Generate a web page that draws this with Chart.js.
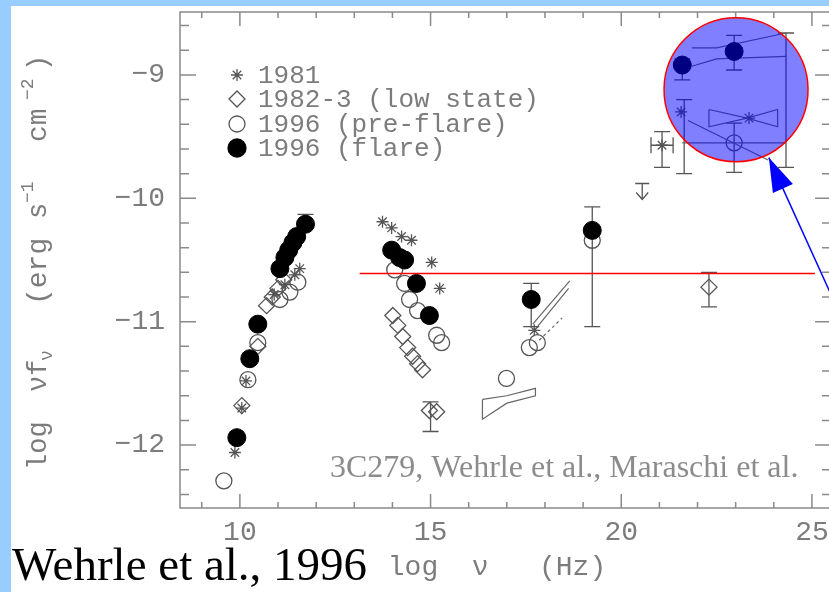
<!DOCTYPE html>
<html>
<head>
<meta charset="utf-8">
<script src="https://cdn.jsdelivr.net/npm/chart.js@4.4.0/dist/chart.umd.min.js"></script>
<style>
  html, body { margin: 0; padding: 0; background: #99ccff; overflow: hidden; width: 829px; height: 592px; }
  #wrap { position: absolute; left: 11px; top: 6px; width: 840px; height: 586px; background: #fff; }
  #sed { display: block; }
</style>
</head>
<body>
<div id="wrap"><canvas id="sed" width="840" height="586"></canvas></div>
<script>

// 1996 flare (filled circles)
const flareX = [9.92, 10.26, 10.47, 11.05, 11.18, 11.28, 11.39, 11.49, 11.72, 13.98, 14.19, 14.32, 14.63, 14.97, 17.64, 19.24, 21.60, 22.96];
const flareY = [-11.94, -11.30, -11.02, -10.57, -10.48, -10.42, -10.36, -10.31, -10.21, -10.42, -10.48, -10.50, -10.69, -10.95, -10.82, -10.26, -8.92, -8.81];

// 1996 pre-flare (open circles)
const preX = [9.58, 10.21, 10.47, 11.05, 11.31, 11.52, 14.06, 14.32, 14.45, 14.66, 15.16, 15.29, 16.99, 17.59, 17.80, 19.24, 22.96];
const preY = [-12.29, -11.47, -11.17, -10.82, -10.76, -10.68, -10.58, -10.69, -10.82, -10.91, -11.11, -11.17, -11.46, -11.21, -11.17, -10.34, -9.55];

// 1982-3 low state (diamonds)
const lowX = [10.05, 10.47, 10.70, 10.85, 11.00, 11.15, 14.01, 14.14, 14.27, 14.40, 14.53, 14.66, 14.79, 14.97, 15.16, 22.30];
const lowY = [-11.68, -11.20, -10.87, -10.80, -10.73, -10.66, -10.95, -11.03, -11.12, -11.21, -11.28, -11.34, -11.39, -11.72, -11.73, -10.72];

// 1981 (asterisks)
const y81X = [9.87, 10.05, 10.16, 10.90, 11.18, 11.44, 11.57, 13.74, 13.98, 14.24, 14.50, 15.03, 15.24, 17.72, 21.07, 21.57, 23.35];
const y81Y = [-12.06, -11.70, -11.48, -10.78, -10.70, -10.62, -10.57, -10.19, -10.24, -10.31, -10.34, -10.52, -10.73, -11.07, -9.57, -9.30, -9.35];

// vertical error bars
const errX  = [11.72, 17.64, 19.24, 21.60, 22.96, 21.65, 22.96, 22.30, 21.07, 24.32, 15.00];
const errLo = [-10.21, -11.04, -11.04, -9.04, -8.96, -9.80, -9.79, -10.88, -9.75, -9.75, -11.89];
const errHi = [-10.13, -10.69, -10.07, -8.87, -8.68, -9.20, -9.39, -10.60, -9.46, -8.66, -11.65];
// horizontal error bar
const hErrY = [-9.57];
const hErrLo = [20.78];
const hErrHi = [21.36];
// upper limit (arrow down)
const ulX = [20.55];
const ulTop = [-9.88];
const ulTip = [-10.01];

// spectral "bow-ties"
const bowXrayAX = [17.68, 18.65];
const bowXrayAY = [-11.02, -10.67];
const bowXrayBX = [17.75, 18.62];
const bowXrayBY = [-11.06, -10.73];
const bowXrayCX = [17.85, 18.45];
const bowXrayCY = [-11.15, -10.97];
const bowLowX = [16.36, 17.00, 17.75, 17.75, 17.00, 16.36, 16.36];
const bowLowY = [-11.63, -11.60, -11.54, -11.60, -11.66, -11.79, -11.63];
const bowGamFlareUpX = [21.85, 22.50, 24.32];
const bowGamFlareUpY = [-8.78, -8.78, -8.66];
const bowGamFlareLoX = [21.85, 22.50, 24.32];
const bowGamFlareLoY = [-8.93, -8.87, -8.85];
const bow81X = [22.30, 22.30, 23.30, 24.10, 24.10, 23.30, 22.30];
const bow81Y = [-9.28, -9.42, -9.35, -9.42, -9.28, -9.35, -9.28];
const gamLineAX = [21.75, 23.85];
const gamLineAY = [-9.37, -9.69];
const gamLineBX = [21.60, 24.32];
const gamLineBY = [-9.55, -9.55];

// annotations
const redLineX = [13.14, 25.08];
const redLineY = [-10.61, -10.61];
const lensX = [23.01];
const lensY = [-9.12];
const arrowX = [25.50, 23.87];
const arrowY = [-10.78, -9.67];

// axes
const xMajor = [10, 15, 20, 25];
const xMinor = [9, 10, 11, 12, 13, 14, 15, 16, 17, 18, 19, 20, 21, 22, 23, 24, 25];
const yMajor = [-12, -11, -10, -9];
const yMinor = [-12.4, -12.2, -12, -11.8, -11.6, -11.4, -11.2, -11, -10.8, -10.6, -10.4, -10.2, -10, -9.8, -9.6, -9.4, -9.2, -9, -8.8, -8.6];

const legendLabels = ['1981', '1982-3 (low state)', '1996 (pre-flare)', '1996 (flare)'];

const scanGray = '#7c7c7c';
const markGray = '#555';
const monoFont = '"Liberation Mono", monospace';

function pts(xs, ys) {
  return xs.map((x, i) => ({ x: x, y: ys[i] }));
}

function lineSet(xs, ys, dash) {
  return {
    data: pts(xs, ys), showLine: true, pointRadius: 0,
    borderColor: '#666', borderWidth: 1.2, borderDash: dash || [], order: 5
  };
}

const decor = {
  id: 'decor',
  beforeDatasetsDraw(chart) {
    const { ctx, chartArea: a, scales: { x, y } } = chart;
    ctx.save();
    ctx.strokeStyle = '#8a8a8a';
    ctx.lineWidth = 1.5;
    ctx.strokeRect(a.left, a.top, a.right - a.left, a.bottom - a.top);
    ctx.beginPath();
    xMinor.forEach(v => {
      const px = x.getPixelForValue(v);
      const len = xMajor.includes(v) ? 14 : 6;
      ctx.moveTo(px, a.bottom); ctx.lineTo(px, a.bottom - len);
      ctx.moveTo(px, a.top); ctx.lineTo(px, a.top + len);
    });
    yMinor.forEach(v => {
      const py = y.getPixelForValue(v);
      const len = yMajor.some(m => Math.abs(m - v) < 1e-6) ? 16 : 9;
      ctx.moveTo(a.left, py); ctx.lineTo(a.left + len, py);
      ctx.moveTo(a.right, py); ctx.lineTo(a.right - len, py);
    });
    ctx.stroke();

    // error bars
    ctx.strokeStyle = '#555';
    ctx.lineWidth = 1.3;
    ctx.beginPath();
    errX.forEach((v, i) => {
      const px = x.getPixelForValue(v);
      const lo = y.getPixelForValue(errLo[i]);
      const hi = y.getPixelForValue(errHi[i]);
      ctx.moveTo(px, lo); ctx.lineTo(px, hi);
      ctx.moveTo(px - 8, lo); ctx.lineTo(px + 8, lo);
      ctx.moveTo(px - 8, hi); ctx.lineTo(px + 8, hi);
    });
    hErrY.forEach((v, i) => {
      const py = y.getPixelForValue(v);
      const l = x.getPixelForValue(hErrLo[i]);
      const r = x.getPixelForValue(hErrHi[i]);
      ctx.moveTo(l, py); ctx.lineTo(r, py);
      ctx.moveTo(l, py - 8); ctx.lineTo(l, py + 8);
      ctx.moveTo(r, py - 8); ctx.lineTo(r, py + 8);
    });
    ulX.forEach((v, i) => {
      const px = x.getPixelForValue(v);
      const t = y.getPixelForValue(ulTop[i]);
      const b = y.getPixelForValue(ulTip[i]);
      ctx.moveTo(px - 7, t); ctx.lineTo(px + 7, t);
      ctx.moveTo(px, t); ctx.lineTo(px, b);
      ctx.moveTo(px - 6, b - 7); ctx.lineTo(px, b); ctx.lineTo(px + 6, b - 7);
    });
    ctx.stroke();
    ctx.restore();
  },
  afterDatasetsDraw(chart) {
    const { ctx, scales: { x, y } } = chart;
    // arrow head
    const tx = x.getPixelForValue(arrowX[1]), ty = y.getPixelForValue(arrowY[1]);
    const sx = x.getPixelForValue(arrowX[0]), sy = y.getPixelForValue(arrowY[0]);
    const ang = Math.atan2(sy - ty, sx - tx);
    const len = 34, half = 11;
    const bx = tx + Math.cos(ang) * len, by = ty + Math.sin(ang) * len;
    ctx.save();
    ctx.fillStyle = '#0000ff';
    ctx.beginPath();
    ctx.moveTo(tx, ty);
    ctx.lineTo(bx - Math.sin(ang) * half, by + Math.cos(ang) * half);
    ctx.lineTo(bx + Math.sin(ang) * half, by - Math.cos(ang) * half);
    ctx.closePath();
    ctx.fill();
    ctx.restore();
  },
  afterDraw(chart) {
    const { ctx } = chart;
    ctx.save();
    // legend
    const styles = [
      { pointStyle: 'star', radius: 6, fill: 'transparent' },
      { pointStyle: 'rectRot', radius: 8, fill: 'transparent' },
      { pointStyle: 'circle', radius: 8, fill: 'transparent' },
      { pointStyle: 'circle', radius: 9, fill: '#000' }
    ];
    const rows = [69, 93, 118, 142];
    legendLabels.forEach((t, i) => {
      const s = styles[i];
      ctx.fillStyle = s.fill;
      ctx.strokeStyle = i === 3 ? '#000' : markGray;
      ctx.lineWidth = 1.3;
      Chart.helpers.drawPoint(ctx, { pointStyle: s.pointStyle, radius: s.radius, borderWidth: 1.3, rotation: 0 }, 226, rows[i]);
      ctx.fillStyle = scanGray;
      ctx.font = '26px ' + monoFont;
      ctx.textBaseline = 'middle';
      ctx.textAlign = 'left';
      ctx.fillText(t, 247, rows[i] + 1);
    });

    // x title
    ctx.fillStyle = scanGray;
    ctx.font = '28px ' + monoFont;
    ctx.textAlign = 'center';
    ctx.textBaseline = 'middle';
    ctx.fillText('log  \u03bd   (Hz)', 486, 562);

    // y title, rotated, with sub/superscripts; [text, size, shift, start along the axis]
    ctx.save();
    ctx.translate(28, 0);
    ctx.rotate(-Math.PI / 2);
    const parts = [
      ['log', 27, 0, 464], ['\u03bdf', 27, 0, 386], ['\u03bd', 18, 8, 355], ['(erg', 28, 0, 299],
      ['s', 27, 0, 213], ['\u22121', 18, -11, 197], ['cm', 28, 0, 136], ['\u22122', 18, -11, 94], [')', 27, 0, 65]
    ];
    ctx.textAlign = 'left';
    ctx.textBaseline = 'middle';
    parts.forEach(p => {
      ctx.font = p[1] + 'px ' + monoFont;
      ctx.fillText(p[0], -p[3], p[2]);
    });
    ctx.restore();

    // captions
    ctx.textBaseline = 'alphabetic';
    ctx.textAlign = 'left';
    ctx.fillStyle = '#8c8c8c';
    ctx.font = '32px "Liberation Serif", serif';
    ctx.fillText('3C279, Wehrle et al., Maraschi et al.', 319, 471);
    ctx.fillStyle = '#000';
    ctx.font = '47px "Liberation Serif", serif';
    ctx.fillText('Wehrle et al., 1996', 1, 574);
    ctx.restore();
  }
};

new Chart(document.getElementById('sed'), {
  type: 'scatter',
  data: {
    datasets: [
      { label: 'lens', data: pts(lensX, lensY), pointRadius: 72, pointHoverRadius: 72,
        backgroundColor: 'rgba(0,0,255,0.5)', borderColor: '#ff0000', borderWidth: 1.5, order: -1 },
      { label: 'arrow', data: pts(arrowX, arrowY), showLine: true, pointRadius: 0,
        borderColor: '#0000ff', borderWidth: 1.5, order: -1 },
      { label: 'red', data: pts(redLineX, redLineY), showLine: true, pointRadius: 0,
        borderColor: '#ff0000', borderWidth: 1.5, order: -2 },
      { label: '1996 (flare)', data: pts(flareX, flareY), pointStyle: 'circle', pointRadius: 9,
        backgroundColor: '#000', borderColor: '#000', borderWidth: 1, order: 1 },
      { label: '1996 (pre-flare)', data: pts(preX, preY), pointStyle: 'circle', pointRadius: 8,
        backgroundColor: 'transparent', borderColor: markGray, borderWidth: 1.3, order: 2 },
      { label: '1982-3 (low state)', data: pts(lowX, lowY), pointStyle: 'rectRot', pointRadius: 8,
        backgroundColor: 'transparent', borderColor: markGray, borderWidth: 1.3, order: 3 },
      { label: '1981', data: pts(y81X, y81Y), pointStyle: 'star', pointRadius: 6,
        backgroundColor: 'transparent', borderColor: markGray, borderWidth: 1.3, order: 4 },
      lineSet(bowXrayAX, bowXrayAY),
      lineSet(bowXrayBX, bowXrayBY),
      lineSet(bowXrayCX, bowXrayCY, [3, 3]),
      lineSet(bowLowX, bowLowY),
      lineSet(bowGamFlareUpX, bowGamFlareUpY),
      lineSet(bowGamFlareLoX, bowGamFlareLoY),
      lineSet(bow81X, bow81Y),
      lineSet(gamLineAX, gamLineAY),
      lineSet(gamLineBX, gamLineBY)
    ]
  },
  options: {
    responsive: false,
    animation: false,
    devicePixelRatio: 1,
    layout: { autoPadding: false, padding: { top: 6, right: 20, left: 0, bottom: 0 } },
    plugins: { legend: { display: false }, tooltip: { enabled: false } },
    scales: {
      x: {
        type: 'linear', min: 8.43, max: 25.5,
        afterFit: s => { s.height = 84; s.paddingLeft = 0; s.paddingRight = 0; },
        afterBuildTicks: s => { s.ticks = xMajor.map(v => ({ value: v })); },
        grid: { display: false, drawTicks: false },
        border: { display: false },
        ticks: { padding: 8, color: scanGray, font: { family: monoFont, size: 28 }, maxRotation: 0 }
      },
      y: {
        type: 'linear', min: -12.51, max: -8.49,
        afterFit: s => { s.width = 169; s.paddingTop = 0; s.paddingBottom = 0; },
        afterBuildTicks: s => { s.ticks = yMajor.map(v => ({ value: v })); },
        grid: { display: false, drawTicks: false },
        border: { display: false },
        ticks: { padding: 15, color: scanGray, font: { family: monoFont, size: 28 },
          callback: v => '\u2212' + Math.abs(v) }
      }
    }
  },
  plugins: [decor]
});
</script>
</body>
</html>
